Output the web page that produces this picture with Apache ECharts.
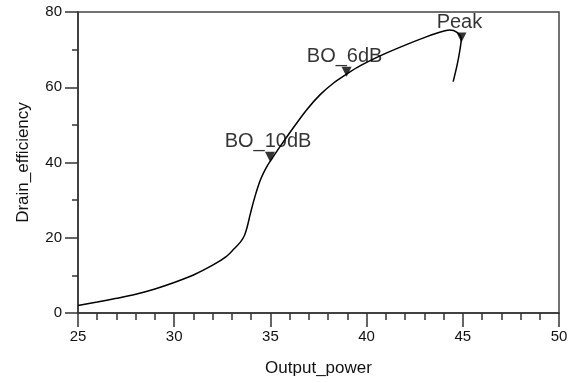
<!DOCTYPE html>
<html>
<head>
<meta charset="utf-8">
<script src="https://cdn.jsdelivr.net/npm/echarts@6/dist/echarts.min.js"></script>
<style>
  html, body {margin: 0; padding: 0; background: #fff;}
  #chart {width: 573px; height: 383px;}
</style>
</head>
<body>
<div id="chart"></div>
<script>
// curve: output power (dBm) vs drain efficiency (%)
var powerX = [25, 26, 27, 28, 29, 30, 31, 32, 32.7, 33.1, 33.45, 33.65, 33.8, 33.94, 34.07, 34.2, 34.35, 34.5,
  34.65, 34.8, 35.0, 35.5, 36.2, 36.9, 37.6, 38.3, 38.96, 39.7, 40.9, 42.1, 43.1, 43.8, 44.3, 44.7, 44.92,
  44.85, 44.7, 44.5];
var efficiency = [2.0, 2.9, 3.9, 5.0, 6.4, 8.1, 10.1, 12.7, 15.0, 17.0, 18.9, 20.6, 23.0, 26.0, 28.6, 31.0, 33.5, 35.6,
  37.3, 38.8, 40.4, 44.2, 49.3, 54.1, 58.1, 61.2, 63.5, 65.8, 68.8, 71.4, 73.4, 74.6, 75.2, 74.6, 72.8,
  69.9, 65.8, 61.5];

// marked points
var markerNames = ['BO_10dB', 'BO_6dB', 'Peak'];
var markerX = [34.98, 38.96, 44.93];
var markerY = [41.5, 64.1, 73.2];

var chart = echarts.init(document.getElementById('chart'));
var font = '"Liberation Sans", Arial, sans-serif';
var axisColor = '#333';

chart.setOption({
  animation: false,
  grid: {
    left: 78, right: 14, top: 12, bottom: 70,
    show: true, borderColor: '#444', borderWidth: 1.5
  },
  xAxis: {
    type: 'value',
    min: 25, max: 50, interval: 5,
    name: 'Output_power',
    nameLocation: 'middle',
    nameGap: 47,
    nameTextStyle: {fontFamily: font, fontSize: 17, color: '#111'},
    axisLine: {lineStyle: {color: axisColor, width: 1.5}},
    axisTick: {length: 14, lineStyle: {color: axisColor, width: 1.5}},
    minorTick: {show: true, splitNumber: 5, length: 7, lineStyle: {color: axisColor, width: 1.5}},
    axisLabel: {fontFamily: font, fontSize: 15, color: '#111', margin: 16},
    splitLine: {show: false}
  },
  yAxis: {
    type: 'value',
    min: 0, max: 80, interval: 20,
    name: 'Drain_efficiency',
    nameLocation: 'middle',
    nameGap: 46,
    nameTextStyle: {fontFamily: font, fontSize: 17, color: '#111'},
    axisLine: {show: true, lineStyle: {color: axisColor, width: 1.5}},
    axisTick: {show: true, length: 13, lineStyle: {color: axisColor, width: 1.5}},
    minorTick: {show: true, splitNumber: 2, length: 6, lineStyle: {color: axisColor, width: 1.5}},
    axisLabel: {fontFamily: font, fontSize: 15, color: '#111', margin: 16},
    splitLine: {show: false}
  },
  series: [
    {
      type: 'line',
      data: powerX.map(function (x, i) { return [x, efficiency[i]]; }),
      showSymbol: false,
      smooth: 0.3,
      lineStyle: {color: '#000', width: 1.5}
    },
    {
      type: 'scatter',
      data: markerX.map(function (x, i) {
        return {name: markerNames[i], value: [x, markerY[i]]};
      }),
      symbol: 'triangle',
      symbolRotate: 180,
      symbolSize: [10, 10],
      itemStyle: {color: '#000'},
      label: {
        show: true,
        position: 'top',
        distance: 0,
        offset: [-2, 0],
        formatter: '{b}',
        fontFamily: font,
        fontSize: 20,
        color: '#000'
      },
      z: 3
    }
  ]
});
</script>
</body>
</html>
